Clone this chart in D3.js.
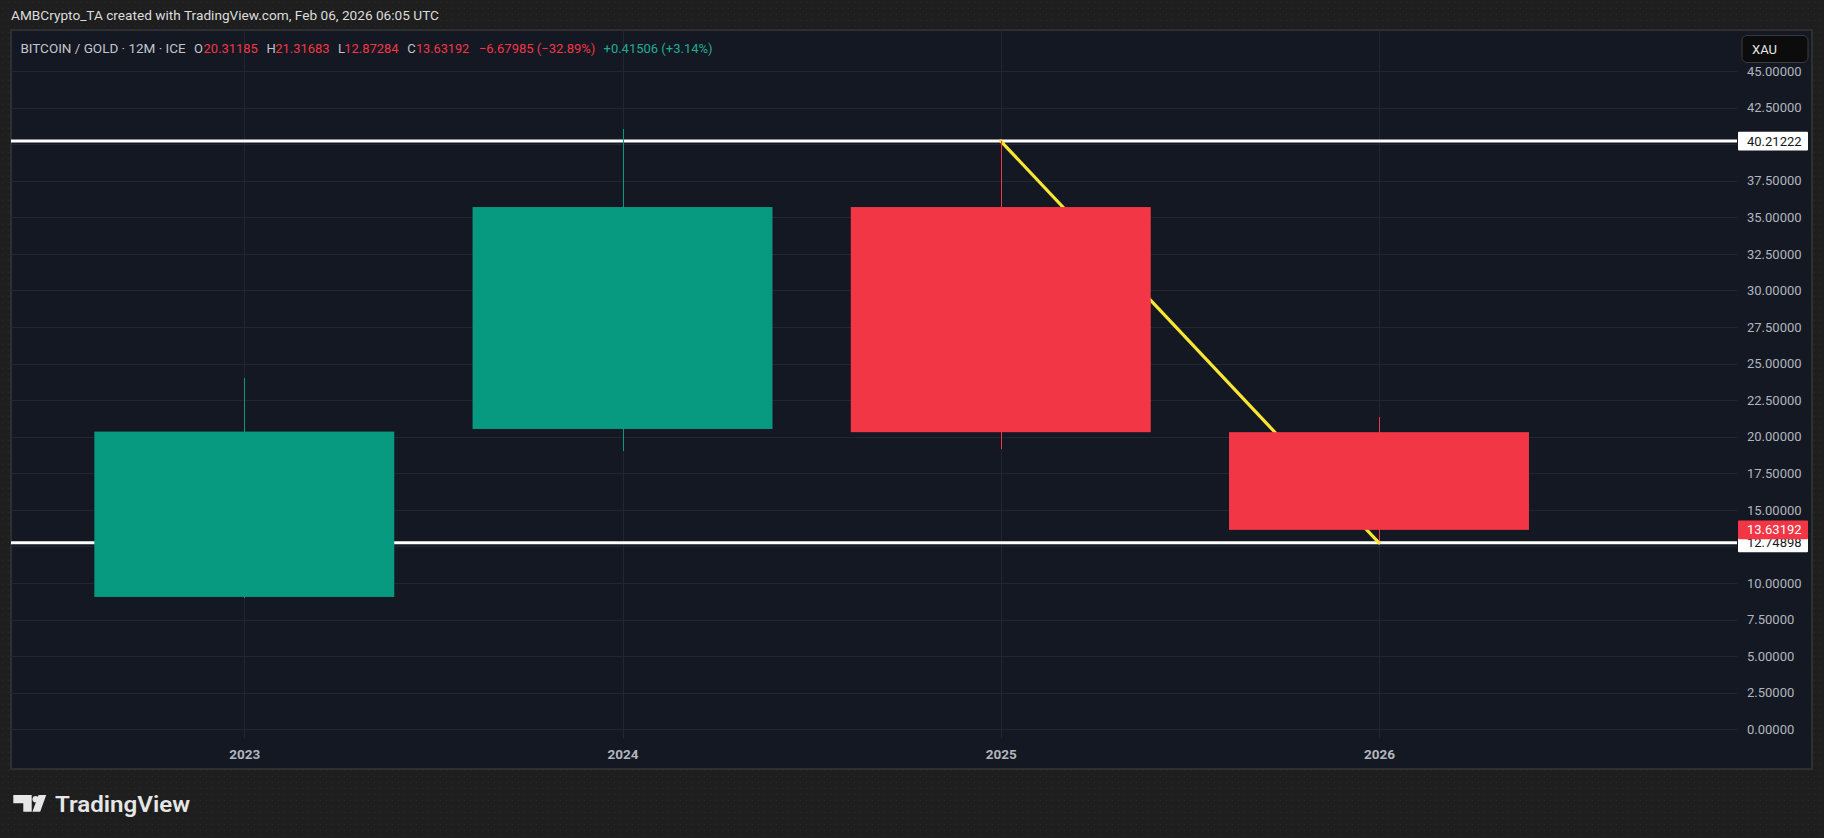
<!DOCTYPE html>
<html>
<head>
<meta charset="utf-8">
<script src="https://cdn.jsdelivr.net/npm/d3@7"></script>
<style>
  html, body { margin: 0; padding: 0; background: #1e1e1e; }
  svg { display: block; }
  text { font-family: Roboto, "Noto Sans", "Liberation Sans", sans-serif; }
</style>
</head>
<body>
<svg id="chart" width="1824" height="838"></svg>
<script>
// ---------------- DATA ----------------
const years  = [2023, 2024, 2025, 2026];
const opens  = [9.05, 20.53, 35.70, 20.31185];
const highs  = [24.00, 41.03, 40.21222, 21.31683];
const lows   = [9.00, 19.02, 19.14, 12.87284];
const closes = [20.35, 35.70, 20.31, 13.63192];

const priceTicks = [0, 2.5, 5, 7.5, 10, 12.5, 15, 17.5, 20, 22.5, 25, 27.5, 30, 32.5, 35, 37.5, 40, 42.5, 45];
const levelValues = [40.21222, 12.74898];
const trendYears  = [2025, 2026];
const trendValues = [40.21222, 12.74898];
const lastClose = 13.63192;

const headerText = "AMBCrypto_TA created with TradingView.com, Feb 06, 2026 06:05 UTC";
const legendTexts  = ["BITCOIN / GOLD · 12M · ICE", "O", "20.31185", "H", "21.31683", "L", "12.87284", "C", "13.63192", "−6.67985 (−32.89%)", "+0.41506 (+3.14%)"];
const legendKinds  = ["label", "label", "down", "label", "down", "label", "down", "label", "down", "down", "up"];

// ---------------- LAYOUT ----------------
const W = 1824, H = 838;
const pane = {left: 11, top: 30, right: 1812, bottom: 769};
const plot = {left: 11, top: 30, right: 1737, bottom: 738};
const colors = {
  bg: "#1e1e1e", pane: "#141823", grid: "#222632", border: "#2f2f31",
  up: "#089981", down: "#f23645", upText: "#22ab94", downText: "#f23645",
  label: "#c3c5cc", axisText: "#b2b5be", level: "#ffffff", trend: "#f9e633"
};

const svg = d3.select("#chart");
const defs = svg.append("defs");
const pat = defs.append("pattern").attr("id", "dots").attr("width", 6).attr("height", 6).attr("patternUnits", "userSpaceOnUse");
pat.append("rect").attr("width", 6).attr("height", 6).attr("fill", colors.bg);
pat.append("rect").attr("x", 2).attr("y", 2).attr("width", 1).attr("height", 1).attr("fill", "#2a2a2a");

svg.append("rect").attr("width", W).attr("height", H).attr("fill", "url(#dots)");

// pane
svg.append("rect")
  .attr("x", pane.left).attr("y", pane.top)
  .attr("width", pane.right - pane.left).attr("height", pane.bottom - pane.top)
  .attr("fill", colors.pane).attr("stroke", colors.border).attr("stroke-width", 2);

// scales
const x = d3.scaleLinear().domain([2023, 2026]).range([244.3, 1379]);
const y = d3.scaleLinear().domain([0, 45]).range([729.3, 71]);
const step = x(years[1]) - x(years[0]);
const bodyW = step * 0.793;

// grid
const grid = svg.append("g").attr("shape-rendering", "crispEdges");
grid.selectAll("line.h").data(priceTicks).join("line")
  .attr("x1", plot.left).attr("x2", plot.right)
  .attr("y1", d => Math.round(y(d)) + 0.5).attr("y2", d => Math.round(y(d)) + 0.5)
  .attr("stroke", colors.grid).attr("stroke-width", 1);
grid.selectAll("line.v").data(years).join("line")
  .attr("y1", plot.top).attr("y2", plot.bottom)
  .attr("x1", d => Math.round(x(d)) + 0.5).attr("x2", d => Math.round(x(d)) + 0.5)
  .attr("stroke", colors.grid).attr("stroke-width", 1);

// horizontal levels
svg.append("g").selectAll("line").data(levelValues).join("line")
  .attr("x1", plot.left).attr("x2", plot.right)
  .attr("y1", d => y(d)).attr("y2", d => y(d))
  .attr("stroke", colors.level).attr("stroke-width", 3);

// trend line
const trendData = trendYears.map((t, i) => [t, trendValues[i]]);
svg.append("path")
  .datum(trendData)
  .attr("d", d3.line().x(d => x(d[0])).y(d => y(d[1])))
  .attr("fill", "none").attr("stroke", colors.trend).attr("stroke-width", 3.2)
  .attr("stroke-linecap", "round");

// candles
const candles = years.map((yr, i) => ({yr, o: opens[i], h: highs[i], l: lows[i], c: closes[i]}));
const cg = svg.append("g").selectAll("g").data(candles).join("g");
cg.append("line")
  .attr("shape-rendering", "crispEdges")
  .attr("x1", d => Math.round(x(d.yr)) + 0.5).attr("x2", d => Math.round(x(d.yr)) + 0.5)
  .attr("y1", d => y(d.h)).attr("y2", d => y(d.l))
  .attr("stroke", d => d.c >= d.o ? colors.up : colors.down).attr("stroke-width", 1.2);
cg.append("rect")
  .attr("x", d => x(d.yr) - bodyW / 2).attr("width", bodyW)
  .attr("y", d => y(Math.max(d.o, d.c)))
  .attr("height", d => Math.abs(y(d.o) - y(d.c)))
  .attr("fill", d => d.c >= d.o ? colors.up : colors.down);

// price axis
const yAxis = d3.axisRight(y).tickValues(priceTicks).tickFormat(d3.format(".5f")).tickSize(0).tickPadding(10);
const yg = svg.append("g").attr("transform", `translate(${plot.right},0)`).call(yAxis);
yg.select(".domain").remove();
yg.selectAll("text").attr("fill", colors.axisText).attr("font-size", 13).attr("font-family", "Roboto, sans-serif");

// time axis
const xAxis = d3.axisBottom(x).tickValues(years).tickFormat(d3.format("d")).tickSize(0).tickPadding(11);
const xg = svg.append("g").attr("transform", `translate(0,${plot.bottom})`).call(xAxis);
xg.select(".domain").remove();
xg.selectAll("text").attr("fill", colors.axisText).attr("font-size", 13.5).attr("font-weight", 700).attr("font-family", "Roboto, sans-serif");

// price labels on axis
function priceLabel(v, fill, textFill) {
  const g = svg.append("g");
  g.append("rect").attr("x", plot.right + 1).attr("width", 70).attr("y", y(v) - 9.4).attr("height", 18.8)
    .attr("fill", fill).attr("rx", 1);
  g.append("text").attr("x", plot.right + 10).attr("y", y(v)).attr("dy", "0.35em")
    .attr("font-size", 13).attr("fill", textFill).text(d3.format(".5f")(v));
}
levelValues.forEach(v => priceLabel(v, "#ffffff", "#131722"));
priceLabel(lastClose, colors.down, "#ffffff");

// XAU button
svg.append("rect").attr("x", 1738).attr("y", 31).attr("width", 73).attr("height", 34).attr("fill", colors.pane);
svg.append("rect").attr("x", 1742).attr("y", 35.5).attr("width", 66).attr("height", 27).attr("rx", 5)
  .attr("fill", "#0c0c0c").attr("stroke", "#3a3a3c").attr("stroke-width", 1);
svg.append("text").attr("x", 1752).attr("y", 49).attr("dy", "0.35em").attr("font-size", 13)
  .attr("fill", "#e8e8e8").text("XAU");

// header
svg.append("text").attr("x", 11).attr("y", 15).attr("dy", "0.35em").attr("font-size", 13)
  .attr("fill", "#dcdcdc").attr("textLength", 428).attr("lengthAdjust", "spacingAndGlyphs").text(headerText);

// legend
const legendX = [20.4, 193.9, 203.6, 266.6, 275.3, 337.9, 344.2, 407.2, 415.9, 478.9, 603.5];
const legendEnd = [185.7, 203, 257.9, 275, 329.6, 344, 398.5, 415, 469.2, 595.3, 712.6];
const kindColor = {label: colors.label, down: colors.downText, up: colors.upText};
svg.append("g").selectAll("text").data(legendTexts).join("text")
  .attr("x", (d, i) => legendX[i]).attr("y", 48).attr("dy", "0.35em")
  .attr("font-size", 13)
  .attr("fill", (d, i) => kindColor[legendKinds[i]])
  .text(d => d)
  .each(function (d, i) {
    if (d.length > 2) d3.select(this).attr("textLength", legendEnd[i] - legendX[i]).attr("lengthAdjust", "spacingAndGlyphs");
  });

// TradingView logo
const logo = svg.append("g").attr("fill", "#e6e6e6");
logo.append("path").attr("d", "M13.3,795 H31.7 V811.7 H23.3 V803.3 H13.3 Z");
logo.append("circle").attr("cx", 35.6).attr("cy", 799.2).attr("r", 3.1);
logo.append("path").attr("d", "M38.6,795 H46.2 L40.2,811.7 H32.4 Z");
logo.append("text").attr("x", 55).attr("y", 811.7).attr("font-size", 22).attr("font-weight", 600)
  .attr("textLength", 135).attr("lengthAdjust", "spacingAndGlyphs").text("TradingView");
</script>
</body>
</html>
